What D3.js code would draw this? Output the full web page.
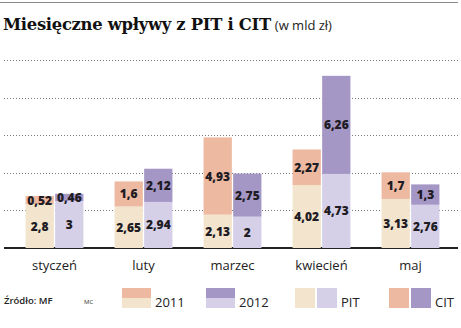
<!DOCTYPE html>
<html lang="pl">
<head>
<meta charset="UTF-8">
<title>Miesięczne wpływy z PIT i CIT</title>
<script src="https://d3js.org/d3.v7.min.js"></script>
<style>
  body { margin: 0; background: #fff; }
  svg { display: block; }
</style>
</head>
<body>
<svg id="chart" width="461" height="328"></svg>
<script>
const months = ["styczeń", "luty", "marzec", "kwiecień", "maj"];
const years = ["2011", "2012"];
const pit2011 = [2.8, 2.65, 2.13, 4.02, 3.13];
const cit2011 = [0.52, 1.6, 4.93, 2.27, 1.7];
const pit2012 = [3, 2.94, 2, 4.73, 2.76];
const cit2012 = [0.46, 2.12, 2.75, 6.26, 1.3];
const gridTicks = [2.4, 4.8, 7.2, 9.6, 12];

const colors = {
  "2011": { PIT: "#f2e4cd", CIT: "#edb9a0" },
  "2012": { PIT: "#d5d0e8", CIT: "#a597c5" }
};
const ink = "#1f1c24";

const rows = [];
months.forEach((m, i) => {
  rows.push({ month: m, year: "2011", pit: pit2011[i], cit: cit2011[i] });
  rows.push({ month: m, year: "2012", pit: pit2012[i], cit: cit2012[i] });
});

const svg = d3.select("#chart");
const fmt = v => String(v).replace(".", ",");

// top rule
svg.append("line")
  .attr("x1", 0).attr("x2", 458).attr("y1", 2.5).attr("y2", 2.5)
  .attr("stroke", "#8a8a8a").attr("stroke-width", 1);

// title
const title = svg.append("text")
  .attr("x", 3).attr("y", 30)
  .attr("fill", "#111");
title.append("tspan")
  .attr("font-family", "DejaVu Serif")
  .attr("font-weight", "bold")
  .attr("font-size", 16.4)
  .attr("letter-spacing", -0.3)
  .text("Miesięczne wpływy z PIT i CIT");
title.append("tspan")
  .attr("font-family", "Open Sans")
  .attr("font-size", 13)
  .attr("dx", 4)
  .attr("fill", "#222")
  .text("(w mld zł)");

const x0 = d3.scaleBand().domain(months).range([10, 455])
  .paddingInner(0.35).paddingOuter(0.175);
const x1 = d3.scaleBand().domain(years).range([0, x0.bandwidth()])
  .paddingInner(0.045);
const y = d3.scaleLinear().domain([0, 12]).range([248, 60]);

// grid
svg.append("g").selectAll("line")
  .data(gridTicks)
  .join("line")
  .attr("x1", 4).attr("x2", 458)
  .attr("y1", d => Math.round(y(d)) + 0.5)
  .attr("y2", d => Math.round(y(d)) + 0.5)
  .attr("stroke", "#777")
  .attr("stroke-width", 1)
  .attr("stroke-dasharray", "1,2");

// baseline
svg.append("line")
  .attr("x1", 4).attr("x2", 458).attr("y1", y(0)).attr("y2", y(0))
  .attr("stroke", "#222").attr("stroke-width", 2);

const bars = svg.append("g").selectAll("g")
  .data(rows)
  .join("g")
  .attr("transform", d => `translate(${x0(d.month) + x1(d.year)},0)`);

bars.append("rect")
  .attr("y", d => y(d.pit))
  .attr("width", x1.bandwidth())
  .attr("height", d => y(0) - y(d.pit))
  .attr("fill", d => colors[d.year].PIT);

bars.append("rect")
  .attr("y", d => y(d.pit + d.cit))
  .attr("width", x1.bandwidth())
  .attr("height", d => y(d.pit) - y(d.pit + d.cit))
  .attr("fill", d => colors[d.year].CIT);

const labelStyle = sel => sel
  .attr("x", x1.bandwidth() / 2)
  .attr("text-anchor", "middle")
  .attr("dominant-baseline", "central")
  .attr("font-family", "Open Sans")
  .attr("font-weight", "800")
  .attr("font-size", 12)
  .attr("fill", ink);

bars.append("text")
  .call(labelStyle)
  .attr("y", d => (y(0) + y(d.pit)) / 2)
  .text(d => fmt(d.pit));

bars.append("text")
  .call(labelStyle)
  .attr("y", d => (y(d.pit) + y(d.pit + d.cit)) / 2)
  .text(d => fmt(d.cit));

// month labels
svg.append("g").selectAll("text")
  .data(months)
  .join("text")
  .attr("x", d => x0(d) + x0.bandwidth() / 2)
  .attr("y", 270)
  .attr("text-anchor", "middle")
  .attr("font-family", "Open Sans")
  .attr("font-size", 13)
  .attr("fill", "#222")
  .text(d => d);

// footer
svg.append("text")
  .attr("x", 4).attr("y", 304)
  .attr("font-family", "Open Sans")
  .attr("font-weight", 600)
  .attr("font-size", 9.5)
  .attr("fill", "#222")
  .text("Źródło: MF");
svg.append("text")
  .attr("x", 84).attr("y", 304)
  .attr("font-family", "Open Sans")
  .attr("font-size", 6)
  .attr("fill", "#333")
  .text("MC");

// legend: years
const yearLegend = [
  { label: "2011", x: 122 },
  { label: "2012", x: 206 }
];
const yl = svg.append("g").selectAll("g")
  .data(yearLegend)
  .join("g")
  .attr("transform", d => `translate(${d.x},288)`);
yl.append("rect").attr("width", 29).attr("height", 10)
  .attr("fill", d => colors[d.label].CIT);
yl.append("rect").attr("y", 10).attr("width", 29).attr("height", 10)
  .attr("fill", d => colors[d.label].PIT);
yl.append("text")
  .attr("x", 33).attr("y", 18.5)
  .attr("font-family", "Open Sans")
  .attr("font-size", 13)
  .attr("fill", "#222")
  .text(d => d.label);

// legend: types
const typeLegend = [
  { label: "PIT", x: 295 },
  { label: "CIT", x: 389 }
];
const tl = svg.append("g").selectAll("g")
  .data(typeLegend)
  .join("g")
  .attr("transform", d => `translate(${d.x},288)`);
tl.append("rect").attr("width", 20).attr("height", 20)
  .attr("fill", d => colors["2011"][d.label]);
tl.append("rect").attr("x", 22).attr("width", 20).attr("height", 20)
  .attr("fill", d => colors["2012"][d.label]);
tl.append("text")
  .attr("x", 46).attr("y", 18.5)
  .attr("font-family", "Open Sans")
  .attr("font-size", 13)
  .attr("fill", "#222")
  .text(d => d.label);
</script>
</body>
</html>
